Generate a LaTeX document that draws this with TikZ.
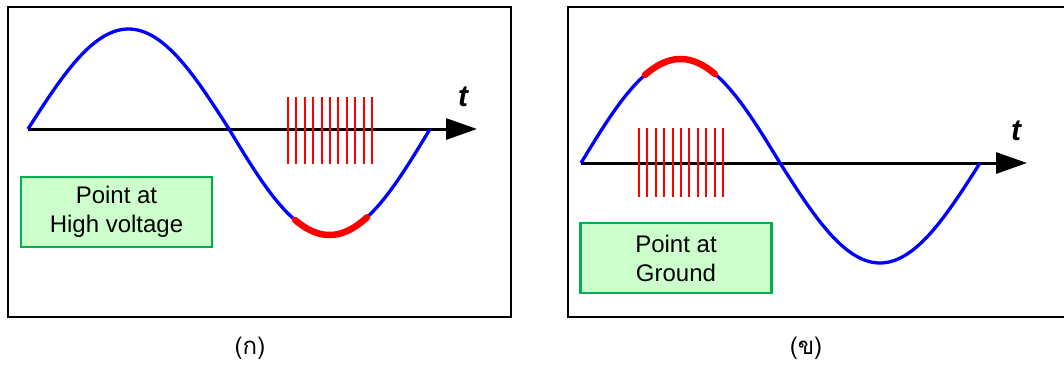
\documentclass[tikz,border=0pt]{standalone}
\usepackage{fontspec}
\setmainfont{Liberation Sans}
\newfontfamily\thaifont[Script=Thai]{Loma}
\usetikzlibrary{arrows.meta}
\definecolor{boxgreen}{RGB}{0,176,80}
\definecolor{boxfill}{RGB}{204,255,204}
\tikzset{
  frame/.style={line width=2.6pt, draw=black},
  axisline/.style={line width=3pt, -{Triangle[length=31pt,width=21pt]}},
  wave/.style={blue, line width=3.3pt, line join=round},
  hot/.style={red, line width=6.5pt, line cap=round},
  burst/.style={red, line width=2.1pt},
  infobox/.style={draw=boxgreen, fill=boxfill, line width=2.2pt, minimum width=191pt, minimum height=70pt, align=center, inner sep=0pt, font=\fontsize{24}{29}\selectfont},
  tlabel/.style={font=\fontsize{30}{30}\selectfont\bfseries\itshape},
  caption/.style={font=\thaifont\fontsize{24}{26}\selectfont, inner sep=0pt}
}
\begin{document}
\begin{tikzpicture}[x=1pt,y=-1pt]
\useasboundingbox (0,0) rectangle (1064,365);
% ---------- panel (ก) ----------
\draw[frame] (8,7) rectangle (511,317);
\coordinate (a0) at (28,129);
\coordinate (a1) at (477,129);
\draw[axisline] (a0) -- (a1);
\node[tlabel] (ta) at (463,97) {t};
\draw[wave] plot[domain=28:229, samples=80, smooth] (\x,{129-100*sin(((\x-28)/201)*180)})
  -- plot[domain=229:430, samples=80, smooth] (\x,{129+106*sin(((\x-229)/201)*180)});
\draw[hot] plot[domain=295:367, samples=30, smooth] (\x,{129+106*sin(((\x-229)/201)*180)});
\foreach \i in {0,...,10}{
  \draw[burst] ({288+8.4*\i},97) -- ({288+8.4*\i},164);
}
\node[infobox] (ba) at (116.5,212) {Point at\\High voltage};
\node[caption] (ca) at (250,348) {(ก)};
% ---------- panel (ข) ----------
\draw[frame] (1066,7) -- (568,7) -- (568,317) -- (1066,317);
\coordinate (b0) at (581,163);
\coordinate (b1) at (1027,163);
\draw[axisline] (b0) -- (b1);
\node[tlabel] (tb) at (1016,131) {t};
\draw[wave] plot[domain=581:780, samples=80, smooth] (\x,{163-104*sin(((\x-581)/199)*180)})
  -- plot[domain=780:980, samples=80, smooth] (\x,{163+100*sin(((\x-780)/200)*180)});
\draw[hot] plot[domain=645:715, samples=30, smooth] (\x,{163-104*sin(((\x-581)/199)*180)});
\foreach \i in {0,...,10}{
  \draw[burst] ({639+8.4*\i},128) -- ({639+8.4*\i},197);
}
\node[infobox] (bb) at (676,258) {Point at\\Ground};
\node[caption] (cb) at (806,348) {(ข)};
\end{tikzpicture}
\end{document}
